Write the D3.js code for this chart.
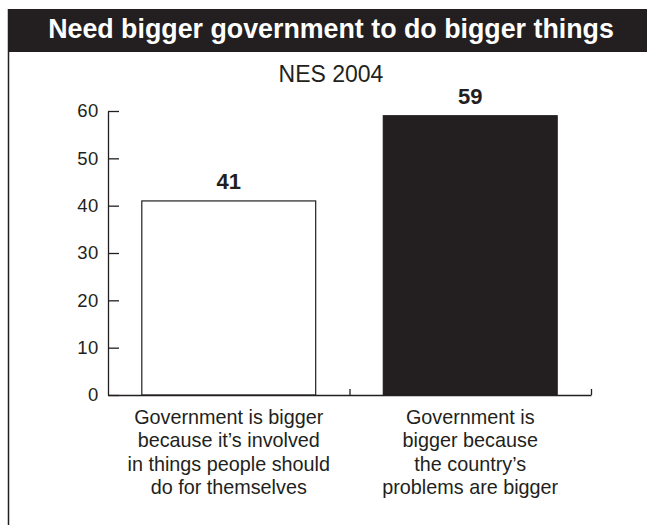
<!DOCTYPE html>
<html>
<head>
<meta charset="utf-8">
<script src="https://cdn.jsdelivr.net/npm/d3@7"></script>
<style>
  html, body { margin: 0; padding: 0; background: #fff; }
  svg { display: block; }
  text { font-family: "Liberation Sans", Arial, Helvetica, sans-serif; fill: #231f20; }
</style>
</head>
<body>
<svg id="chart" width="647" height="525"></svg>
<script>
const title = "Need bigger government to do bigger things";
const subtitle = "NES 2004";
const categories = [
  ["Government is bigger", "because it\u2019s involved", "in things people should", "do for themselves"],
  ["Government is", "bigger because", "the country\u2019s", "problems are bigger"]
];
const values = [41, 59];
const barFills = ["#ffffff", "#231f20"];
const yTicks = [0, 10, 20, 30, 40, 50, 60];

const ink = "#231f20";
const svg = d3.select("#chart");

// Frame: header band and left rule
svg.append("rect").attr("x", 8).attr("y", 9).attr("width", 660).attr("height", 43).attr("fill", ink);
svg.append("line").attr("x1", 8.5).attr("x2", 8.5).attr("y1", 9).attr("y2", 525)
  .attr("stroke", ink).attr("stroke-width", 1.5);

const t = svg.append("text").attr("x", 331).attr("y", 38).attr("text-anchor", "middle")
  .style("font-weight", "bold").style("font-size", "22px").style("fill", "#fff").text(title);
const tw = t.node().getComputedTextLength();
t.style("font-size", (22 * 566 / tw) + "px");

svg.append("text").attr("x", 331).attr("y", 82).attr("text-anchor", "middle")
  .style("font-size", "23px").text(subtitle);

// Scales
const y = d3.scaleLinear().domain([0, 60]).range([395, 111]);
const x = d3.scaleBand().domain(d3.range(values.length)).range([108, 591])
  .paddingInner(0.28).paddingOuter(0.14);
const xEdge = d3.scaleLinear().domain([0, values.length]).range([108, 591]);

// Bars
svg.selectAll("rect.bar").data(values).join("rect")
  .attr("class", "bar")
  .attr("x", (d, i) => x(i))
  .attr("y", d => y(d))
  .attr("width", x.bandwidth())
  .attr("height", d => y(0) - y(d))
  .attr("fill", (d, i) => barFills[i])
  .attr("stroke", ink).attr("stroke-width", 1.2);

// Value labels
svg.selectAll("text.val").data(values).join("text")
  .attr("class", "val")
  .attr("x", (d, i) => x(i) + x.bandwidth() / 2)
  .attr("y", d => y(d) - 12)
  .attr("text-anchor", "middle")
  .style("font-weight", "bold").style("font-size", "22px")
  .text(d => d);

// Y axis
const yAxis = d3.axisLeft(y).tickValues(yTicks).tickSizeInner(-11).tickSizeOuter(0).tickPadding(9);
const gy = svg.append("g").attr("transform", "translate(108,0)").call(yAxis);
gy.select(".domain").attr("stroke", ink).attr("stroke-width", 1.3);
gy.selectAll(".tick line").attr("stroke", ink).attr("stroke-width", 1.3);
gy.selectAll(".tick text").style("font-size", "18.5px").style("letter-spacing", "0.6px")
  .style("font-family", "\"Liberation Sans\", Arial, sans-serif").attr("fill", ink);

// X axis
const xAxis = d3.axisBottom(xEdge).tickValues(d3.range(1, values.length + 1)).tickSizeInner(-6).tickSizeOuter(0).tickFormat("");
const gx = svg.append("g").attr("transform", "translate(0,395)").call(xAxis);
gx.select(".domain").attr("stroke", ink).attr("stroke-width", 1.3);
gx.selectAll(".tick line").attr("stroke", ink).attr("stroke-width", 1.3);

// Category labels
categories.forEach((lines, i) => {
  const tx = svg.append("text").attr("text-anchor", "middle").style("font-size", "19.8px");
  lines.forEach((ln, j) => {
    tx.append("tspan").attr("x", x(i) + x.bandwidth() / 2).attr("y", 423.5 + j * 23.5).text(ln);
  });
});
</script>
</body>
</html>
